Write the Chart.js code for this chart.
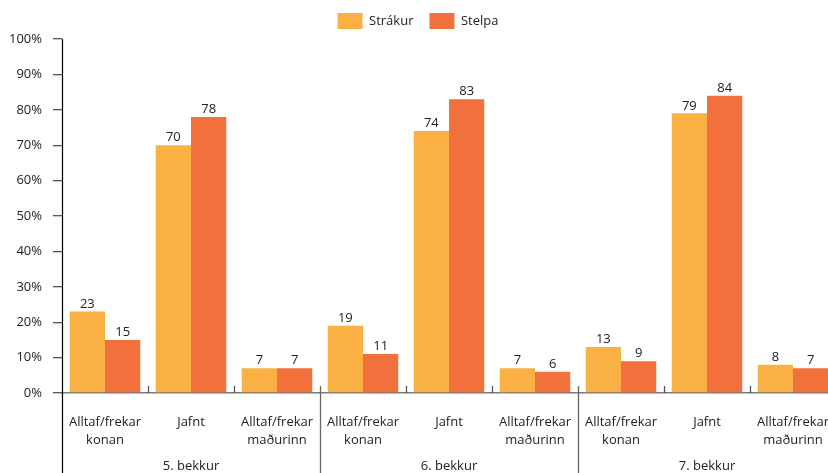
<!DOCTYPE html>
<html>
<head>
<meta charset="utf-8">
<script src="https://cdn.jsdelivr.net/npm/chart.js@4/dist/chart.umd.min.js"></script>
<style>
  html, body { margin: 0; padding: 0; background: #fff; overflow: hidden; }
  #wrap { width: 846px; height: 473px; }
</style>
</head>
<body>
<div id="wrap"><canvas id="chart"></canvas></div>
<script>
// categories, grade groups and values
const categories = [
    ['Alltaf/frekar', 'konan'], ['Jafnt'], ['Alltaf/frekar', 'maðurinn'],
    ['Alltaf/frekar', 'konan'], ['Jafnt'], ['Alltaf/frekar', 'maðurinn'],
    ['Alltaf/frekar', 'konan'], ['Jafnt'], ['Alltaf/frekar', 'maðurinn']
];
const groups = ['5. bekkur', '6. bekkur', '7. bekkur'];
const strakur = [23, 70, 7, 19, 74, 7, 13, 79, 8];
const stelpa = [15, 78, 7, 11, 83, 6, 9, 84, 7];

const FONT = '"Open Sans", "Noto Sans", sans-serif';

// numbers above each bar
const barLabels = {
    id: 'barLabels',
    afterDatasetsDraw(chart) {
        const ctx = chart.ctx;
        ctx.save();
        ctx.font = '13px ' + FONT;
        ctx.fillStyle = '#222';
        ctx.textAlign = 'center';
        ctx.textBaseline = 'bottom';
        chart.data.datasets.forEach((ds, i) => {
            chart.getDatasetMeta(i).data.forEach((bar, j) => {
                ctx.fillText(ds.data[j], bar.x, bar.y - 1);
            });
        });
        ctx.restore();
    }
};

// separators between categories and grade groups, plus the group labels
const groupAxis = {
    id: 'groupAxis',
    afterDraw(chart) {
        const ctx = chart.ctx;
        const x = chart.scales.x;
        const area = chart.chartArea;
        const bottom = chart.height;
        ctx.save();
        for (let i = 1; i < categories.length; i++) {
            const px = Math.round((x.getPixelForValue(i - 1) + x.getPixelForValue(i)) / 2) + 0.5;
            ctx.beginPath();
            ctx.strokeStyle = i % 3 === 0 ? '#666' : '#555';
            ctx.lineWidth = 1.3;
            ctx.moveTo(px, area.bottom - 7);
            ctx.lineTo(px, i % 3 === 0 ? bottom : area.bottom);
            ctx.stroke();
        }
        // y axis line runs on down past the labels
        ctx.beginPath();
        ctx.strokeStyle = '#000';
        ctx.lineWidth = 1.2;
        ctx.moveTo(area.left + 0.5, area.top);
        ctx.lineTo(area.left + 0.5, bottom);
        ctx.stroke();

        ctx.font = '13px ' + FONT;
        ctx.fillStyle = '#222';
        ctx.textAlign = 'center';
        ctx.textBaseline = 'top';
        groups.forEach((g, k) => {
            const cx = x.getPixelForValue(k * 3 + 1);
            ctx.fillText(g, cx, 460);
        });
        ctx.restore();
    }
};

new Chart(document.getElementById('chart'), {
    type: 'bar',
    data: {
        labels: categories,
        datasets: [{
            label: 'Strákur',
            data: strakur,
            backgroundColor: '#FAB042',
            categoryPercentage: 0.82,
            barPercentage: 1
        }, {
            label: 'Stelpa',
            data: stelpa,
            backgroundColor: '#F2703C',
            categoryPercentage: 0.82,
            barPercentage: 1
        }]
    },
    options: {
        responsive: true,
        maintainAspectRatio: false,
        animation: false,
        layout: { padding: { top: -3, right: 10 } },
        scales: {
            x: {
                afterFit: (scale) => { scale.height = 80; scale.paddingRight = 0; },
                grid: { display: false, drawTicks: false },
                border: { display: true, color: '#7a7a7a', width: 1.5 },
                ticks: {
                    padding: 21,
                    color: '#222',
                    font: { family: FONT, size: 13, lineHeight: 1.35 },
                    maxRotation: 0,
                    autoSkip: false
                }
            },
            y: {
                min: 0,
                max: 100,
                afterFit: (scale) => { scale.width = 62; },
                grid: { drawOnChartArea: false, drawTicks: true, tickLength: 9, color: '#555', lineWidth: 1.3 },
                border: { display: false },
                ticks: {
                    stepSize: 10,
                    padding: 11,
                    color: '#222',
                    font: { family: FONT, size: 13 },
                    callback: (v) => v + '%'
                }
            }
        },
        plugins: {
            legend: {
                position: 'top',
                labels: {
                    boxWidth: 25,
                    boxHeight: 16,
                    padding: 16,
                    color: '#222',
                    font: { family: FONT, size: 13 }
                }
            },
            tooltip: { enabled: false }
        }
    },
    plugins: [barLabels, groupAxis]
});
</script>
</body>
</html>
